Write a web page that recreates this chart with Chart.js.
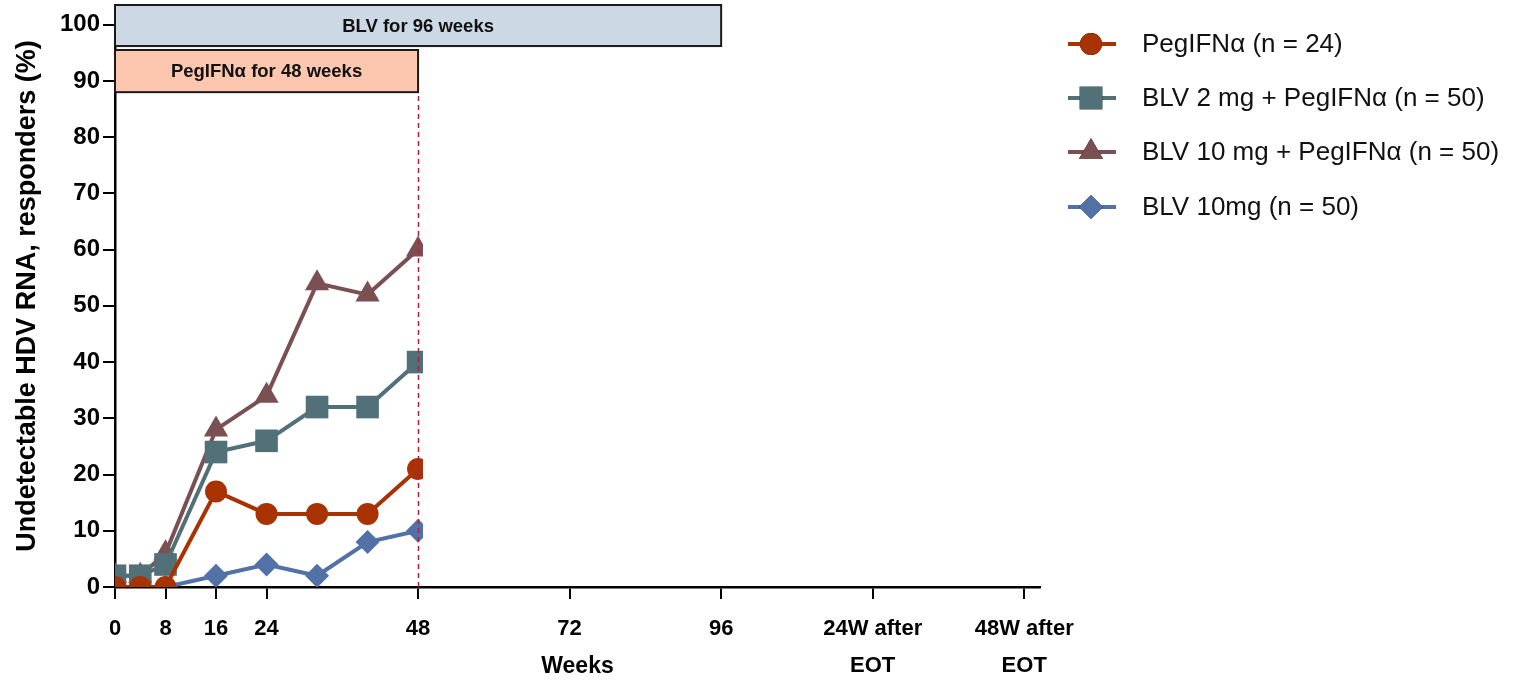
<!DOCTYPE html>
<html>
<head>
<meta charset="utf-8">
<script src="https://cdn.jsdelivr.net/npm/chart.js@4.4.1/dist/chart.umd.min.js"></script>
<style>
  html, body { margin: 0; padding: 0; background: #ffffff; }
  canvas { display: block; }
</style>
</head>
<body>
<canvas id="chart" width="1514" height="680"></canvas>
<script>
// Study visits (weeks) and share of responders (%) per arm
const weeks = [0, 4, 8, 16, 24, 32, 40, 48];
const pegIfn = [0, 0, 0, 17, 13, 13, 13, 21];
const blv2Peg = [2, 2, 4, 24, 26, 32, 32, 40];
const blv10Peg = [2, 2, 6, 28, 34, 54, 52, 60];
const blv10 = [0, 0, 0, 2, 4, 2, 8, 10];
const seriesLabels = [
  'PegIFNα (n = 24)',
  'BLV 2 mg + PegIFNα (n = 50)',
  'BLV 10 mg + PegIFNα (n = 50)',
  'BLV 10mg (n = 50)'
];

// Axis ticks
const xTickValues = [0, 8, 16, 24, 48, 72, 96, 120, 144];
const xTickLabels = ['0', '8', '16', '24', '48', '72', '96', ['24W after', 'EOT'], ['48W after', 'EOT']];
const yTickValues = [0, 10, 20, 30, 40, 50, 60, 70, 80, 90, 100];

// Treatment periods shown as bars above the curves (weeks, % band)
const periodLabels = ['BLV for 96 weeks', 'PegIFNα for 48 weeks'];
const periodStart = [0, 0];
const periodEnd = [96, 48];
const periodLow = [96.2, 88.0];
const periodHigh = [103.5, 95.5];
const periodFill = ['#cdd8e5', '#fcc6af'];
const endOfPegWeek = 48;

// Pick a condensed face for the x axis if one is installed
function hasFont(name) {
  const c = document.createElement('canvas').getContext('2d');
  const probe = 'Weeks 0123456789 after EOT';
  c.font = 'bold 40px monospace';
  const base = c.measureText(probe).width;
  c.font = 'bold 40px "' + name + '", monospace';
  return Math.abs(c.measureText(probe).width - base) > 0.5;
}
const narrowAvailable = hasFont('Liberation Sans Narrow');
const xFamily = narrowAvailable ? '"Liberation Sans Narrow", "Liberation Sans", Arial, sans-serif' : '"Liberation Sans", Arial, sans-serif';
const xTickSize = narrowAvailable ? 27 : 22;
const xTitleSize = narrowAvailable ? 28 : 23;
const sansFamily = '"Liberation Sans", Arial, Helvetica, sans-serif';

const periodBars = {
  id: 'periodBars',
  afterDatasetsDraw(chart) {
    const { ctx, scales: { x, y } } = chart;
    ctx.save();
    // dashed marker at the end of PegIFNα dosing
    const xe = Math.round(x.getPixelForValue(endOfPegWeek)) + 0.5;
    ctx.strokeStyle = '#b0203c';
    ctx.lineWidth = 1.5;
    ctx.setLineDash([5, 4]);
    ctx.beginPath();
    ctx.moveTo(xe, y.getPixelForValue(0));
    ctx.lineTo(xe, y.getPixelForValue(periodLow[1]));
    ctx.stroke();
    ctx.setLineDash([]);
    for (let i = 0; i < periodLabels.length; i++) {
      const l = x.getPixelForValue(periodStart[i]);
      const r = x.getPixelForValue(periodEnd[i]);
      const t = y.getPixelForValue(periodHigh[i]);
      const b = y.getPixelForValue(periodLow[i]);
      ctx.fillStyle = periodFill[i];
      ctx.fillRect(l, t, r - l, b - t);
      ctx.strokeStyle = '#1a1a1a';
      ctx.lineWidth = 2;
      ctx.strokeRect(l, t, r - l, b - t);
      ctx.fillStyle = '#111';
      ctx.font = 'bold 18.5px ' + sansFamily;
      ctx.textAlign = 'center';
      ctx.textBaseline = 'middle';
      ctx.fillText(periodLabels[i], (l + r) / 2, (t + b) / 2 + 1);
    }
    ctx.restore();
  }
};

// Curves stop just past the week-48 visit
const clipAtLastVisit = {
  id: 'clipAtLastVisit',
  beforeDatasetsDraw(chart) {
    const { ctx, chartArea: a, scales: { x } } = chart;
    ctx.save();
    ctx.beginPath();
    ctx.rect(a.left, a.top, x.getPixelForValue(weeks[weeks.length - 1] + 0.8) - a.left, a.bottom - a.top);
    ctx.clip();
  },
  afterDatasetsDraw(chart) {
    chart.ctx.restore();
  }
};

const sideLegend = {
  id: 'sideLegend',
  afterDraw(chart) {
    const { ctx } = chart;
    const x0 = 1068, x1 = 1116, xm = 1091, xt = 1142;
    const rows = [44, 98, 152, 207];
    ctx.save();
    chart.data.datasets.forEach((ds, i) => {
      const yc = rows[i];
      ctx.strokeStyle = ds.borderColor;
      ctx.lineWidth = 4;
      ctx.beginPath();
      ctx.moveTo(x0, yc);
      ctx.lineTo(x1, yc);
      ctx.stroke();
      Chart.helpers.drawPoint(ctx, {
        pointStyle: ds.pointStyle,
        radius: ds.pointRadius,
        borderWidth: 0
      }, xm, yc);
      ctx.fillStyle = ds.pointBackgroundColor;
      ctx.fill();
      ctx.fillStyle = '#111';
      ctx.font = '26px ' + sansFamily;
      ctx.textAlign = 'left';
      ctx.textBaseline = 'middle';
      ctx.fillText(ds.label, xt, yc + 1);
    });
    ctx.restore();
  }
};

const colors = ['#a83200', '#527078', '#7b5052', '#5171a7'];
const styles = ['circle', 'rect', 'triangle', 'rectRot'];
const radii = [11, 16, 14, 12];
const values = [pegIfn, blv2Peg, blv10Peg, blv10];

const datasets = values.map((vals, i) => ({
  label: seriesLabels[i],
  data: weeks.map((w, k) => ({ x: w, y: vals[k] })),
  borderColor: colors[i],
  backgroundColor: colors[i],
  pointBackgroundColor: colors[i],
  pointBorderColor: colors[i],
  pointBorderWidth: 0,
  pointStyle: styles[i],
  pointRadius: radii[i],
  pointHoverRadius: radii[i],
  borderWidth: 4,
  tension: 0,
  fill: false
}));

new Chart(document.getElementById('chart'), {
  type: 'line',
  data: { datasets },
  plugins: [clipAtLastVisit, periodBars, sideLegend],
  options: {
    responsive: false,
    animation: false,
    events: [],
    layout: { autoPadding: false, padding: { top: 5, right: 474, left: 0, bottom: 0 } },
    plugins: { legend: { display: false }, tooltip: { enabled: false } },
    scales: {
      x: {
        type: 'linear',
        min: 0,
        max: 146.5,
        afterBuildTicks: s => { s.ticks = xTickValues.map(v => ({ value: v })); },
        afterFit: s => { s.height = 93; s.paddingLeft = 0; s.paddingRight = 0; },
        ticks: {
          autoSkip: false,
          maxRotation: 0,
          minRotation: 0,
          color: '#000',
          padding: 11,
          font: { family: xFamily, size: xTickSize, weight: 'bold', lineHeight: 1.7 },
          callback: v => xTickLabels[xTickValues.indexOf(v)]
        },
        grid: { drawOnChartArea: false, drawTicks: true, tickLength: 12, color: '#000', lineWidth: 2 },
        border: { color: '#000', width: 2.5 },
        title: {
          display: true,
          text: 'Weeks',
          color: '#000',
          font: { family: xFamily, size: xTitleSize, weight: 'bold', lineHeight: 1.2 },
          padding: { top: 0, bottom: 0 }
        }
      },
      y: {
        min: 0,
        max: 103.5,
        afterBuildTicks: s => { s.ticks = yTickValues.map(v => ({ value: v })); },
        afterFit: s => { s.width = 115; s.paddingTop = 0; s.paddingBottom = 0; },
        ticks: {
          color: '#000',
          padding: 3,
          font: { family: sansFamily, size: 24, weight: 'bold' }
        },
        grid: { drawOnChartArea: false, drawTicks: true, tickLength: 12, color: '#000', lineWidth: 2 },
        border: { color: '#000', width: 2.5 },
        title: {
          display: true,
          text: 'Undetectable HDV RNA, responders (%)',
          color: '#000',
          font: { family: sansFamily, size: 27, weight: 'bold', lineHeight: 1.2 },
          padding: { top: 11, bottom: 0 }
        }
      }
    }
  }
});
</script>
</body>
</html>
